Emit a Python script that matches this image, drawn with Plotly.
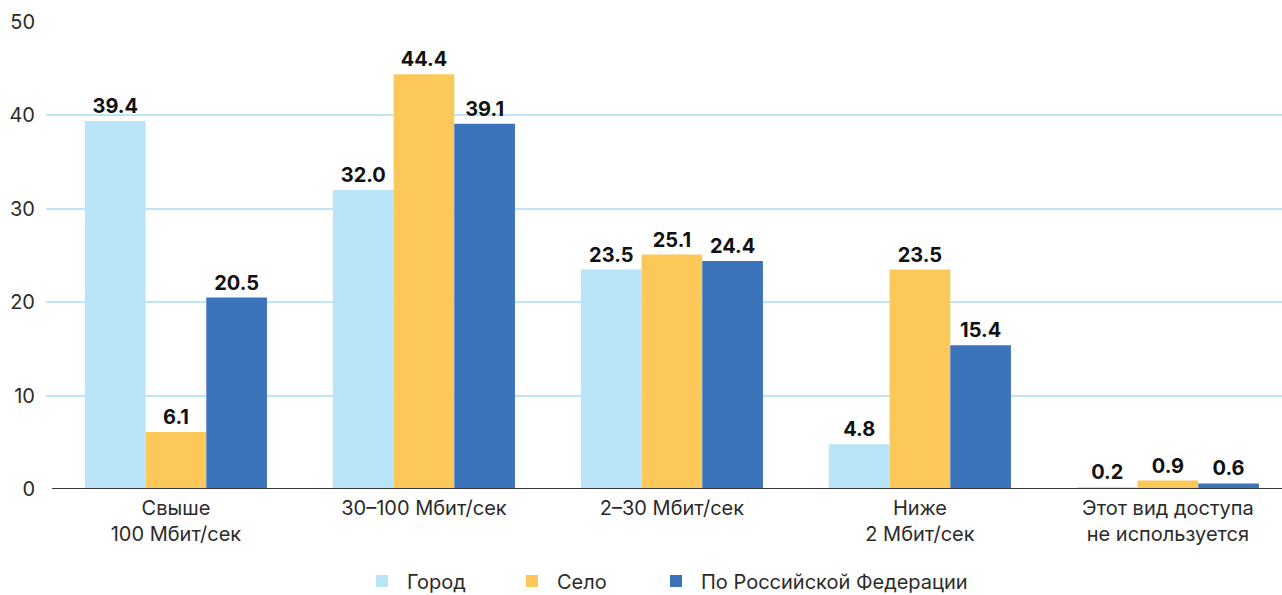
import plotly.graph_objects as go

categories = [
    "Свыше<br>100 Мбит/сек",
    "30–100 Мбит/сек",
    "2–30 Мбит/сек",
    "Ниже<br>2 Мбит/сек",
    "Этот вид доступа<br>не используется",
]
series_names = ["Город", "Село", "По Российской Федерации"]
city = [39.4, 32.0, 23.5, 4.8, 0.2]
village = [6.1, 44.4, 25.1, 23.5, 0.9]
russia = [20.5, 39.1, 24.4, 15.4, 0.6]
y_ticks = [0, 10, 20, 30, 40, 50]

colors = ["#b9e4f8", "#fdc85a", "#3c74bb"]
legend_ids = ["legend", "legend2", "legend3"]
legend_x = [357, 507, 651]  # left edge of each legend entry, px
FONT = "Inter, Roboto, sans-serif"
W, H = 1282, 595

fig = go.Figure()
for name, vals, col, lg in zip(series_names, [city, village, russia], colors, legend_ids):
    fig.add_trace(go.Bar(
        x=list(range(len(categories))), y=vals, name=name, legend=lg,
        marker=dict(color=col, line=dict(width=0)),
        texttemplate="<b>%{y:.1f}</b>", textposition="outside",
        textfont=dict(size=20, color="#111111", family=FONT),
        cliponaxis=False,
    ))

# baseline under the bars
fig.add_shape(type="line", xref="x", yref="y", x0=-0.5, x1=4.46, y0=0, y1=0,
              line=dict(color="#3a3a3a", width=2))

legend_style = dict(orientation="h", xanchor="left", xref="container",
                    yref="container", y=(H - 581) / H, yanchor="middle",
                    font=dict(size=20, color="#2b2b2b"), itemwidth=40,
                    bgcolor="rgba(0,0,0,0)")

fig.update_layout(
    width=W, height=H,
    margin=dict(l=46, r=0, t=22, b=106, autoexpand=False),
    paper_bgcolor="white", plot_bgcolor="white",
    barmode="group", bargap=0.266, bargroupgap=0,
    font=dict(family=FONT, size=20, color="#2b2b2b"),
    xaxis=dict(
        range=[-0.524, 4.46], tickmode="array",
        tickvals=list(range(len(categories))), ticktext=categories,
        showgrid=False, zeroline=False, showline=False, ticks="",
        ticklabelstandoff=5, automargin=False,
        tickfont=dict(size=20, color="#2b2b2b"),
    ),
    yaxis=dict(
        range=[0, 50], tickvals=y_ticks, showgrid=True,
        gridcolor="#bfe6f7", gridwidth=1.5, zeroline=False,
        ticks="", ticklabelstandoff=10, automargin=False,
        tickfont=dict(size=20, color="#2b2b2b"),
    ),
    legend=dict(x=legend_x[0] / W, **legend_style),
    legend2=dict(x=legend_x[1] / W, **legend_style),
    legend3=dict(x=legend_x[2] / W, **legend_style),
    showlegend=True,
)

fig.write_html("out.html")
